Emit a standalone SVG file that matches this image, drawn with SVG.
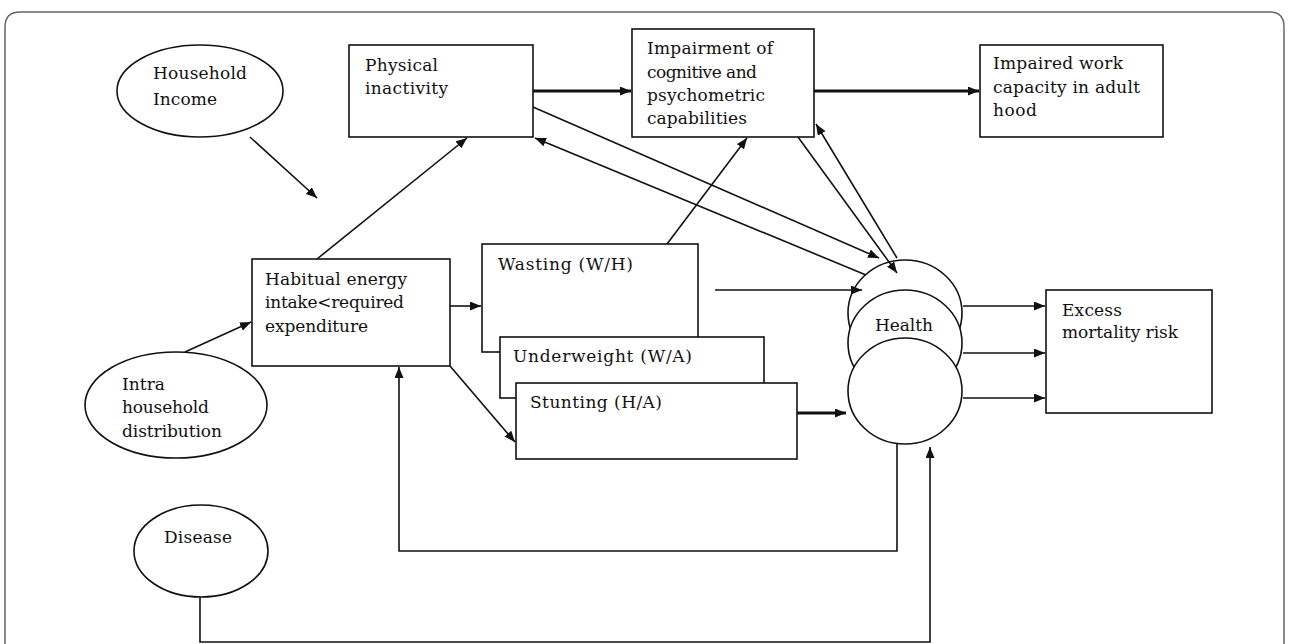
<svg xmlns="http://www.w3.org/2000/svg" width="1290" height="644" viewBox="0 0 1290 644">
<style>
.n{fill:#fff;stroke:#111;stroke-width:1.6}
.t{font-family:"DejaVu Serif","Liberation Serif",serif;font-size:17px;fill:#111}
.c{fill:none;stroke:#111;stroke-width:1.6}
.k{stroke-width:2.8}
</style>
<defs>
<marker id="ah" markerUnits="userSpaceOnUse" markerWidth="12" markerHeight="9" refX="11" refY="4.5" orient="auto">
<path d="M0,0 L11,4.5 L0,9 z" fill="#111"/>
</marker>
</defs>
<rect width="1290" height="644" fill="#fff"/>
<path d="M5,644 L5,27 Q5,12 20,12 L1270,12 Q1284,12 1284,27 L1284,644" fill="none" stroke="#666" stroke-width="1.5"/>

<g id="household-income">
<ellipse class="n" cx="200" cy="91" rx="83" ry="46"/>
<text class="t" x="153" y="79" textLength="94">Household</text>
<text class="t" x="153" y="105" textLength="64">Income</text>
</g>
<g id="physical-inactivity">
<rect class="n" x="349" y="45" width="184" height="92"/>
<text class="t" x="365" y="71" textLength="73">Physical</text>
<text class="t" x="365" y="94" textLength="83">inactivity</text>
</g>
<g id="impairment">
<rect class="n" x="632" y="29" width="182" height="108"/>
<text class="t" x="647" y="54" textLength="126">Impairment of</text>
<text class="t" x="647" y="78" textLength="110">cognitive and</text>
<text class="t" x="647" y="101" textLength="118">psychometric</text>
<text class="t" x="647" y="124" textLength="100">capabilities</text>
</g>
<g id="impaired-work">
<rect class="n" x="980" y="45" width="183" height="92"/>
<text class="t" x="993" y="69" textLength="130">Impaired work</text>
<text class="t" x="993" y="93" textLength="147">capacity in adult</text>
<text class="t" x="993" y="116" textLength="44">hood</text>
</g>
<g id="habitual-energy">
<rect class="n" x="252" y="259" width="198" height="107"/>
<text class="t" x="265" y="285" textLength="142">Habitual energy</text>
<text class="t" x="265" y="308" textLength="139">intake&lt;required</text>
<text class="t" x="265" y="332" textLength="103">expenditure</text>
</g>
<g id="intra-household">
<ellipse class="n" cx="176" cy="405" rx="91" ry="53"/>
<text class="t" x="122" y="390" textLength="43">Intra</text>
<text class="t" x="122" y="413" textLength="87">household</text>
<text class="t" x="122" y="437" textLength="100">distribution</text>
</g>
<g id="wasting">
<rect class="n" x="482" y="244" width="216" height="108"/>
<text class="t" x="498" y="270" textLength="135">Wasting (W/H)</text>
</g>
<g id="underweight">
<rect class="n" x="500" y="337" width="264" height="61"/>
<text class="t" x="513" y="362" textLength="179">Underweight (W/A)</text>
</g>
<g id="stunting">
<rect class="n" x="516" y="383" width="281" height="76"/>
<text class="t" x="530" y="408" textLength="132">Stunting (H/A)</text>
</g>
<g id="health">
<ellipse class="n" cx="905" cy="313" rx="57" ry="53"/>
<ellipse class="n" cx="905" cy="343" rx="57" ry="53"/>
<ellipse class="n" cx="905" cy="391" rx="57" ry="53"/>
<text class="t" x="875" y="331" textLength="58">Health</text>
</g>
<g id="excess-mortality">
<rect class="n" x="1046" y="290" width="166" height="123"/>
<text class="t" x="1062" y="316" textLength="60">Excess</text>
<text class="t" x="1062" y="338" textLength="116">mortality risk</text>
</g>
<g id="disease">
<ellipse class="n" cx="201" cy="551" rx="67" ry="46"/>
<text class="t" x="164" y="543" textLength="68">Disease</text>
</g>

<g id="connectors">
<path class="c" d="M250,137 L317,198" marker-end="url(#ah)"/>
<path class="c" d="M185,352 L251,322" marker-end="url(#ah)"/>
<path class="c" d="M317,259 L467,138" marker-end="url(#ah)"/>
<path class="c k" d="M533,91 L631,91" marker-end="url(#ah)"/>
<path class="c k" d="M814,91 L979,91" marker-end="url(#ah)"/>
<path class="c" d="M533,107 L879,258" marker-end="url(#ah)"/>
<path class="c" d="M866,275 L535,138" marker-end="url(#ah)"/>
<path class="c" d="M798,137 L897,273" marker-end="url(#ah)"/>
<path class="c" d="M897,258 L816,124" marker-end="url(#ah)"/>
<path class="c" d="M667,244 L747,138" marker-end="url(#ah)"/>
<path class="c" d="M450,306 L481,306" marker-end="url(#ah)"/>
<path class="c" d="M450,366 L515,442" marker-end="url(#ah)"/>
<path class="c" d="M715,290 L862,290" marker-end="url(#ah)"/>
<path class="c k" d="M797,413 L846,413" marker-end="url(#ah)"/>
<path class="c" d="M963,306 L1045,306" marker-end="url(#ah)"/>
<path class="c" d="M963,353 L1045,353" marker-end="url(#ah)"/>
<path class="c" d="M963,398 L1045,398" marker-end="url(#ah)"/>
<path class="c" d="M897,444 L897,551 L399,551 L399,367" marker-end="url(#ah)"/>
<path class="c" d="M200,597 L200,642 L930,642 L930,447" marker-end="url(#ah)"/>
</g>
</svg>
